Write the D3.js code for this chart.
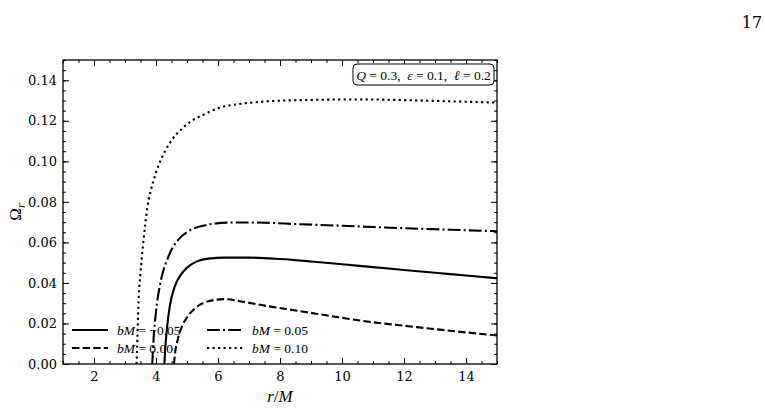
<!DOCTYPE html>
<html>
<head>
<meta charset="utf-8">
<script src="https://cdn.jsdelivr.net/npm/d3@7"></script>
<style>
  body { margin: 0; background: #fff; }
  svg { display: block; }
  .math { font-family: "Liberation Serif", "DejaVu Serif", serif; }
</style>
</head>
<body>
<div id="chart"></div>
<script>
// r/M sample points and Omega_r values
const rSolid  = [4.27, 4.30, 4.35, 4.45, 4.60, 4.80, 5.00, 5.30, 5.70, 6.20, 7.00, 8.00, 9.00, 10.0, 11.0, 12.0, 13.0, 14.0, 15.0];
const wSolid  = [0.000, 0.008, 0.017, 0.029, 0.038, 0.044, 0.0475, 0.0505, 0.052, 0.0525, 0.0525, 0.0518, 0.0506, 0.0492, 0.0478, 0.0464, 0.0450, 0.0437, 0.0423];

const rDashed = [4.58, 4.62, 4.70, 4.85, 5.00, 5.30, 5.70, 6.20, 6.70, 7.50, 8.60, 10.0, 11.0, 12.0, 13.0, 14.0, 15.0];
const wDashed = [0.000, 0.006, 0.012, 0.019, 0.023, 0.028, 0.031, 0.032, 0.031, 0.0288, 0.0262, 0.0228, 0.0206, 0.0189, 0.0172, 0.0156, 0.0141];

const rDashDot = [3.88, 3.92, 4.00, 4.13, 4.40, 4.70, 5.10, 5.60, 6.40, 7.20, 8.60, 10.0, 11.0, 12.0, 13.0, 14.0, 15.0];
const wDashDot = [0.000, 0.012, 0.026, 0.039, 0.053, 0.061, 0.066, 0.0685, 0.0698, 0.0698, 0.069, 0.0682, 0.0676, 0.067, 0.0665, 0.066, 0.0655];

const rDotted = [3.37, 3.40, 3.43, 3.50, 3.59, 3.72, 3.91, 4.11, 4.29, 4.53, 4.81, 5.15, 5.53, 6.06, 6.80, 7.70, 9.00, 10.0, 11.0, 12.0, 13.0, 14.0, 15.0];
const wDotted = [0.000, 0.012, 0.028, 0.045, 0.060, 0.077, 0.090, 0.099, 0.105, 0.111, 0.1157, 0.120, 0.123, 0.1265, 0.1285, 0.1297, 0.1303, 0.1305, 0.1305, 0.1302, 0.1298, 0.1294, 0.129];

const labels = ["\u22120.05", "0.00", "0.05", "0.10"];
const xTicks = [2, 4, 6, 8, 10, 12, 14];
const yTicks = [0, 0.02, 0.04, 0.06, 0.08, 0.10, 0.12, 0.14];

const series = [
  { r: rSolid,   w: wSolid,   label: labels[0], dash: null },
  { r: rDashed,  w: wDashed,  label: labels[1], dash: "7.4,3.2" },
  { r: rDashDot, w: wDashDot, label: labels[2], dash: "12.8,3.2,2,3.2" },
  { r: rDotted,  w: wDotted,  label: labels[3], dash: "2.2,3.3" }
];

const width = 765, height = 412;
const padding = { top: 60, right: 268, bottom: 48, left: 63 };
const innerWidth = width - padding.left - padding.right;
const innerHeight = height - padding.top - padding.bottom;

const svg = d3.select('#chart').append('svg')
  .attr('width', width).attr('height', height);

// page number
svg.append('text').attr('x', 752).attr('y', 28)
  .attr('text-anchor', 'middle')
  .attr('font-family', '"DejaVu Serif", serif').attr('font-size', 16)
  .text('17');

const graph = svg.append('g')
  .attr('transform', 'translate(' + padding.left + ',' + padding.top + ')');

const x = d3.scaleLinear().domain([1, 15]).range([0, innerWidth]);
const y = d3.scaleLinear().domain([0, 0.15]).range([innerHeight, 0]);

const xMinor = d3.range(1, 15.01, 0.5);
const yMinor = d3.range(0, 0.1501, 0.005);

// ticks on all four sides, pointing inward
function axisSet(axis, scale, values, size, fmt, cls, tr) {
  const a = axis(scale).tickValues(values).tickSizeInner(-size).tickSizeOuter(0).tickPadding(6);
  a.tickFormat(fmt || '');
  const g = graph.append('g').attr('class', cls).attr('transform', tr).call(a);
  g.select('.domain').remove();
  g.selectAll('line').attr('stroke', '#000').attr('stroke-width', 1);
  if (fmt) {
    g.attr('font-family', '"DejaVu Serif", serif').attr('font-size', 13);
    g.selectAll('text').attr('fill', '#000');
  } else {
    g.selectAll('text').remove();
  }
  return g;
}

axisSet(d3.axisBottom, x, xTicks, 6, d3.format('d'), 'x axis', 'translate(0,' + innerHeight + ')');
axisSet(d3.axisBottom, x, xMinor, 3, null, 'x minor', 'translate(0,' + innerHeight + ')');
axisSet(d3.axisTop, x, xTicks, 6, null, 'x top', 'translate(0,0)');
axisSet(d3.axisTop, x, xMinor, 3, null, 'x top minor', 'translate(0,0)');
axisSet(d3.axisLeft, y, yTicks, 6, d3.format('.2f'), 'y axis', 'translate(0,0)');
axisSet(d3.axisLeft, y, yMinor, 3, null, 'y minor', 'translate(0,0)');
axisSet(d3.axisRight, y, yTicks, 6, null, 'y right', 'translate(' + innerWidth + ',0)');
axisSet(d3.axisRight, y, yMinor, 3, null, 'y right minor', 'translate(' + innerWidth + ',0)');

graph.selectAll('.x.axis text').attr('dy', '0.85em');

// curves
const line = d3.line()
  .x(d => x(d[0]))
  .y(d => y(d[1]))
  .curve(d3.curveMonotoneX);

series.forEach(s => {
  graph.append('path')
    .datum(s.r.map((r, i) => [r, s.w[i]]))
    .attr('fill', 'none')
    .attr('stroke', '#000')
    .attr('stroke-width', 2.1)
    .attr('stroke-dasharray', s.dash)
    .attr('d', line);
});

// frame
graph.append('rect')
  .attr('width', innerWidth).attr('height', innerHeight)
  .attr('fill', 'none').attr('stroke', '#000').attr('stroke-width', 1.3);

// bottom legend
const legendPos = [[9, 270], [9, 288], [144, 270], [144, 288]];
series.forEach((s, i) => {
  const [lx, ly] = legendPos[i];
  graph.append('line')
    .attr('x1', lx).attr('x2', lx + 36).attr('y1', ly).attr('y2', ly)
    .attr('stroke', '#000').attr('stroke-width', 2.1)
    .attr('stroke-dasharray', s.dash);
  const t = graph.append('text').attr('class', 'math')
    .attr('x', lx + 45).attr('y', ly + 4.5)
    .attr('font-size', 13.5);
  t.append('tspan').attr('font-style', 'italic').text('bM');
  t.append('tspan').text(' = ' + s.label);
});

// parameter box
const box = graph.append('g').attr('transform', 'translate(' + (innerWidth - 144) + ',4)');
box.append('rect')
  .attr('width', 141).attr('height', 21).attr('rx', 4)
  .attr('fill', '#fff').attr('stroke', '#000').attr('stroke-width', 1);
const bt = box.append('text').attr('class', 'math')
  .attr('x', 70.5).attr('y', 15.5).attr('text-anchor', 'middle')
  .attr('font-size', 13.5);
[['Q', true], [' = 0.3,  ', false], ['\u03b5', true], [' = 0.1,  ', false], ['\u2113', true], [' = 0.2', false]]
  .forEach(p => bt.append('tspan').attr('font-style', p[1] ? 'italic' : 'normal')
    .attr('xml:space', 'preserve').text(p[0]));

// axis labels
const xl = svg.append('text').attr('class', 'math')
  .attr('x', padding.left + innerWidth / 2).attr('y', 402)
  .attr('text-anchor', 'middle').attr('font-size', 17);
xl.append('tspan').attr('font-style', 'italic').text('r');
xl.append('tspan').text('/');
xl.append('tspan').attr('font-style', 'italic').text('M');

const yl = svg.append('text').attr('class', 'math')
  .attr('transform', 'translate(21,' + (padding.top + innerHeight / 2) + ') rotate(-90)')
  .attr('text-anchor', 'middle').attr('font-size', 17);
yl.append('tspan').text('\u03a9');
yl.append('tspan').attr('font-style', 'italic').attr('font-size', 12).attr('dy', 4).text('r');
</script>
</body>
</html>
